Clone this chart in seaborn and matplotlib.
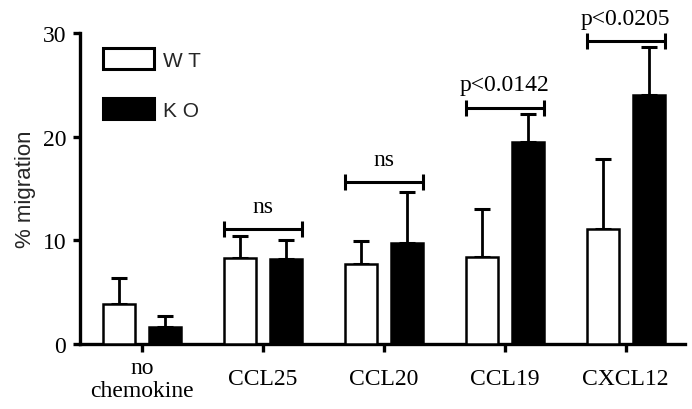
import matplotlib
matplotlib.use("Agg")
import matplotlib.pyplot as plt
import seaborn as sns
import pandas as pd
import numpy as np

# ---- data ----
categories = ["no\nchemokine", "CCL25", "CCL20", "CCL19", "CXCL12"]
groups = ["WT", "KO"]
legend_labels = ["W T", "K O"]
wt_mean = [3.9, 8.3, 7.7, 8.4, 11.1]
wt_err = [2.5, 2.1, 2.2, 4.6, 6.7]
ko_mean = [1.65, 8.2, 9.7, 19.5, 24.0]
ko_err = [1.05, 1.8, 5.0, 2.7, 4.7]
bracket_groups = [1, 2, 3, 4]
bracket_heights = [11.1, 15.6, 22.8, 29.2]
bracket_labels = ["ns", "ns", "p<0.0142", "p<0.0205"]
yticks = [0, 10, 20, 30]

df = pd.DataFrame({
    "cat": categories * 2,
    "group": ["WT"] * len(categories) + ["KO"] * len(categories),
    "val": wt_mean + ko_mean,
})

sns.set_style("ticks")
serif = ["Liberation Serif", "DejaVu Serif"]
sans = ["Liberation Sans", "DejaVu Sans"]

fig = plt.figure(figsize=(6.92, 4.1), dpi=100)
ax = fig.add_axes([0.1156, 0.1585, 0.8743, 0.7585])

sns.barplot(data=df, x="cat", y="val", hue="group", order=categories,
            hue_order=groups, palette={"WT": "white", "KO": "black"},
            edgecolor="black", linewidth=1.8, width=0.76, gap=0.3,
            errorbar=None, ax=ax, zorder=3)

# error bars (upper only)
errs = [wt_err, ko_err]
means = [wt_mean, ko_mean]
for cont, m, e in zip(ax.containers, means, errs):
    xs = [p.get_x() + p.get_width() / 2 for p in cont.patches]
    ax.errorbar(xs, m, yerr=[np.zeros(len(e)), e], fmt="none", ecolor="black",
                elinewidth=2.0, capsize=5.5, capthick=2.2, zorder=2)

# significance brackets
wt_cont, ko_cont = ax.containers[0], ax.containers[1]
for gi, h, lab in zip(bracket_groups, bracket_heights, bracket_labels):
    left = wt_cont.patches[gi].get_x()
    right = ko_cont.patches[gi].get_x() + ko_cont.patches[gi].get_width()
    c = (left + right) / 2
    ax.errorbar([c], [h], xerr=[(right - left) / 2], fmt="none", ecolor="black",
                elinewidth=2.2, capsize=5.5, capthick=2.2, zorder=4, clip_on=False)
    ax.text(c, h + 1.2, lab, ha="center", va="bottom", fontsize=17,
            family=serif, color="black")

ax.set_xlim(-0.51, 4.49)
ax.set_ylim(0, 30)
ax.set_yticks(yticks)
ax.set_xlabel("")
ax.set_ylabel("% migration", fontsize=16, family=sans, labelpad=5)

sns.despine(ax=ax)
for s in ["left", "bottom"]:
    ax.spines[s].set_linewidth(2.4)
    ax.spines[s].set_color("black")

ax.tick_params(axis="y", length=5, width=2.4, pad=5, labelsize=17, colors="black")
ax.tick_params(axis="x", length=6, width=2.4, pad=19, labelsize=17, colors="black")
for t in ax.get_xticklabels() + ax.get_yticklabels():
    t.set_family(serif)
for t in ax.get_xticklabels():
    t.set_va("center")
    t.set_linespacing(1.12)

handles, _ = ax.get_legend_handles_labels()
leg = ax.legend(handles, legend_labels, loc="upper left",
                bbox_to_anchor=((103 - 80) / 605, 1 - (49 - 34) / 311),
                frameon=False, borderpad=0, borderaxespad=0,
                handlelength=2.45, handleheight=1.2, handletextpad=0.45,
                labelspacing=1.35, prop={"family": sans, "size": 15})
for p in leg.get_patches():
    p.set_linewidth(2.2)
    p.set_edgecolor("black")

fig.savefig("out.png", dpi=100)
